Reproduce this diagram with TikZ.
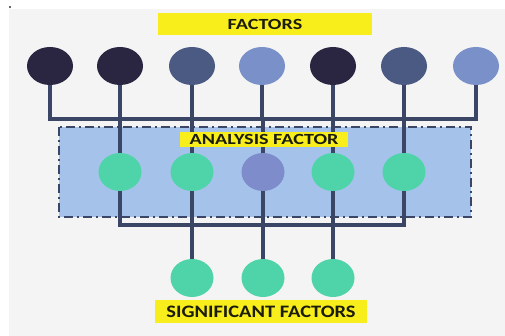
\documentclass[tikz,border=0pt]{standalone}
\usepackage{fontspec}
\setmainfont{Carlito}
\usetikzlibrary{shapes.geometric}
\definecolor{panel}{HTML}{F4F4F4}
\definecolor{wire}{HTML}{3B4566}
\definecolor{navy}{HTML}{2A2541}
\definecolor{slate}{HTML}{4B5A82}
\definecolor{peri}{HTML}{7A90C9}
\definecolor{mint}{HTML}{4ED4A8}
\definecolor{lilac}{HTML}{7E8CCC}
\definecolor{zonefill}{HTML}{A5C3EA}
\definecolor{tag}{HTML}{F8EE1C}
\definecolor{tagtext}{HTML}{1C1C0A}
\tikzset{
  x=1pt, y=-1pt,
  dotnode/.style={ellipse, inner sep=0pt, minimum width=46pt, minimum height=38pt, fill=#1},
  middot/.style={ellipse, inner sep=0pt, minimum width=43pt, minimum height=38pt, fill=#1},
  wireline/.style={draw=wire, line width=4pt, line cap=butt, line join=miter},
  tagbox/.style={fill=tag, inner sep=0pt, text=tagtext, font=\bfseries\fontsize{15.5}{16}\selectfont},
}
\newcommand{\widetext}[2][1.3]{\scalebox{#1}[1]{#2}}
\begin{document}
\begin{tikzpicture}
  \useasboundingbox (0,0) rectangle (505,336);
  \fill[white] (0,0) rectangle (505,336);
  \fill[panel] (9,9) rectangle (505,336);
  \fill[black!80] (10,7) circle (1.2pt);

  % dash-dotted analysis zone
  \draw[fill=zonefill, draw=wire, line width=2.5pt, dash pattern=on 9pt off 4pt on 2pt off 4pt]
    (59,127) rectangle (471,217);

  % factor row
  \node[dotnode=navy]  (t1) at (50,66) {};
  \node[dotnode=navy]  (t2) at (120,66) {};
  \node[dotnode=slate] (t3) at (192,66) {};
  \node[dotnode=peri]  (t4) at (262,66) {};
  \node[dotnode=navy]  (t5) at (333,66) {};
  \node[dotnode=slate] (t6) at (404,66) {};
  \node[dotnode=peri]  (t7) at (476,66) {};

  % analysed factors
  \node[middot=mint]  (m1) at (120,172) {};
  \node[middot=mint]  (m2) at (192,172) {};
  \node[middot=lilac] (m3) at (263,172) {};
  \node[middot=mint]  (m4) at (333,172) {};
  \node[middot=mint]  (m5) at (404,172) {};

  % significant factors
  \node[middot=mint] (b1) at (192,278) {};
  \node[middot=mint] (b2) at (263,278) {};
  \node[middot=mint] (b3) at (333,278) {};

  % bus lines
  \coordinate (topbus) at (0,119);
  \coordinate (lowbus) at (0,225);

  \draw[wireline] (t1.south) -- (t1 |- topbus) -- (t7 |- topbus) -- (t7.south);
  \foreach \n in {t2,t3,t4,t5,t6}
    \draw[wireline] (\n.south) -- (\n |- topbus);
  \foreach \n in {m1,m2,m3,m4,m5}
    \draw[wireline] (\n |- topbus) -- (\n.north);

  \draw[wireline] (m1.south) -- (m1 |- lowbus) -- (m5 |- lowbus) -- (m5.south);
  \foreach \n in {m2,m3,m4}
    \draw[wireline] (\n.south) -- (\n |- lowbus);
  \foreach \n in {b1,b2,b3}
    \draw[wireline] (\n |- lowbus) -- (\n.north);

  % labels
  \node[tagbox, minimum width=214pt, minimum height=22pt] (lfactors) at (265,24) {\widetext{FACTORS}};
  \node[tagbox, minimum width=168pt, minimum height=15pt] (lanalysis) at (264,139.5) {\widetext{ANALYSIS FACTOR}};
  \node[tagbox, minimum width=212pt, minimum height=23pt, font=\bfseries\fontsize{17.5}{18}\selectfont]
    (lsig) at (261,311.5) {\widetext[1.17]{SIGNIFICANT FACTORS}};
\end{tikzpicture}
\end{document}
